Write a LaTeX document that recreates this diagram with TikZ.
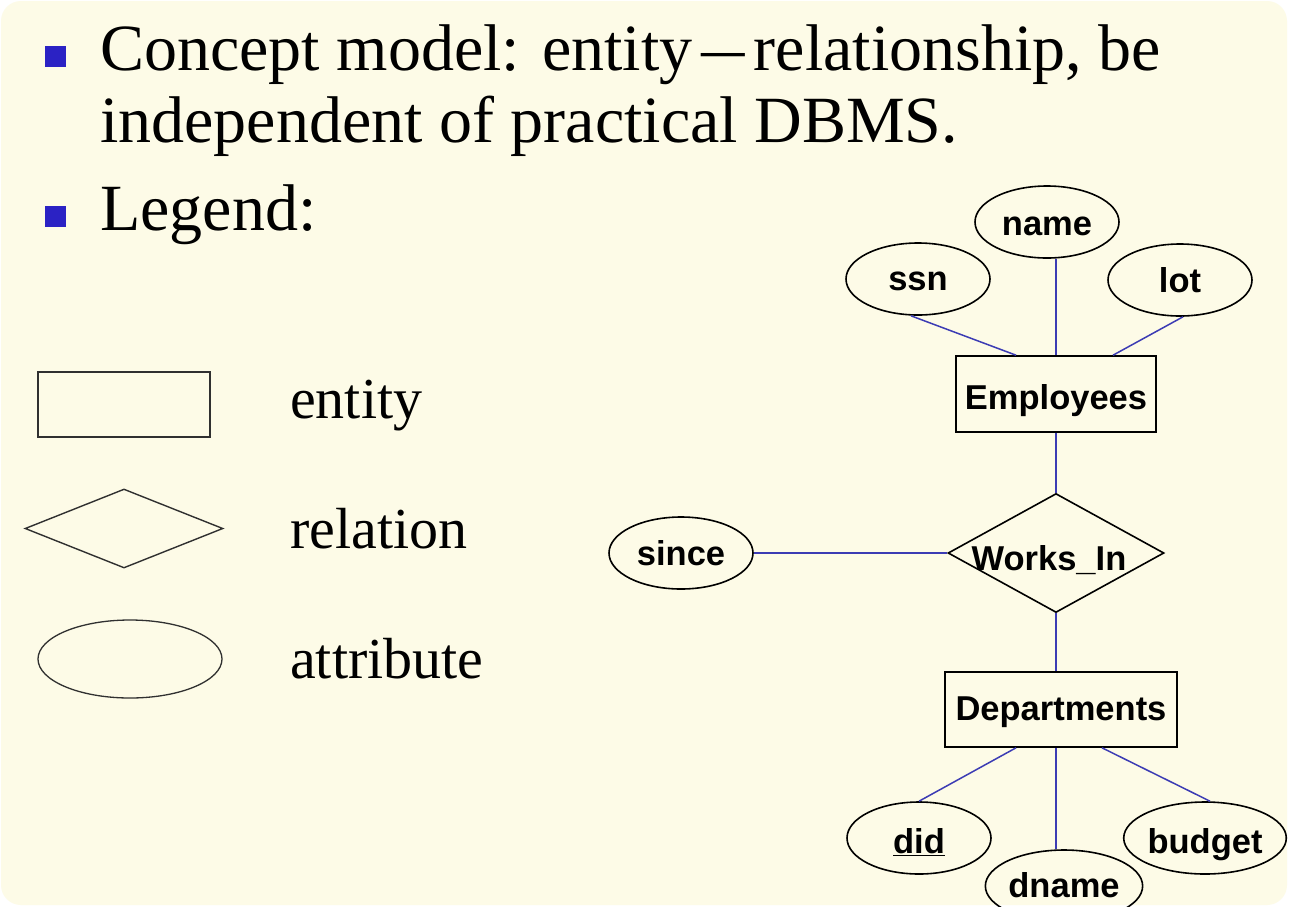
\documentclass[tikz,border=0pt]{standalone}
\usepackage{fontspec}
\setmainfont{Liberation Serif}
\newfontfamily\erfont{Liberation Sans}
\usetikzlibrary{shapes.geometric}
\definecolor{slidebg}{HTML}{FDFBE7}
\definecolor{linkblue}{HTML}{3C3CB4}
\definecolor{bulletblue}{HTML}{2B22C4}
\definecolor{legendgray}{HTML}{303030}
\newcommand{\shortdash}{\hspace{9pt}\scalebox{0.66}[1]{—}\hspace{9pt}}
\tikzset{
  erlabel/.style={font=\erfont\bfseries\fontsize{34.5}{34.5}\selectfont, text height=25pt, text depth=0pt},
  attr/.style={ellipse, draw=black, line width=1.6pt, minimum width=144, minimum height=72, inner sep=0pt, erlabel},
  entitybox/.style={rectangle, draw=black, line width=1.6pt, inner sep=0pt, erlabel},
  relbox/.style={diamond, draw=black, line width=1.6pt, inner sep=0pt, aspect=1.82, minimum width=216, minimum height=119},
  link/.style={draw=linkblue, line width=1.5pt},
  bullet/.style={fill=bulletblue, draw=none, minimum width=21, minimum height=21, inner sep=0pt},
  headtext/.style={anchor=base west, inner sep=0pt, font=\fontsize{66}{78}\selectfont},
  legtext/.style={anchor=base west, inner sep=0pt, font=\fontsize{58}{68}\selectfont},
  legshape/.style={draw=legendgray, inner sep=0pt}
}
\begin{document}
\begin{tikzpicture}[x=1pt,y=-1pt]
\useasboundingbox (0,0) rectangle (1290,906);
\fill[white] (0,0) rectangle (1290,906);
\fill[slidebg, rounded corners=20pt] (1,1) rectangle (1287,905);

% heading bullets and text
\node[bullet] (b1) at (55.5,56) {};
\node[headtext] (t1) at (100,70) {Concept model: entity\shortdash relationship, be};
\node[headtext] (t2) at (100,142) {independent of practical DBMS.};
\node[bullet] (b2) at (55.5,216) {};
\node[headtext] (t3) at (100,230) {Legend:};

% legend
\node[legshape, rectangle, line width=1.8pt, minimum width=172, minimum height=65] (legent) at (124,404.5) {};
\node[legtext] (legentt) at (290,418) {entity};
\node[legshape, diamond, line width=1.4pt, aspect=2.5, minimum width=198, minimum height=79] (legrel) at (124,528.5) {};
\node[legtext] (legrelt) at (290,548) {relation};
\node[legshape, ellipse, line width=1.3pt, minimum width=184, minimum height=78] (legatt) at (130,659) {};
\node[legtext] (legattt) at (290,678) {attribute};

% ER diagram
\node[attr, text height=26pt] (name) at (1047,222) {name};
\node[attr, text height=22pt] (ssn) at (918,279) {ssn};
\node[attr, text height=24pt] (lot) at (1180,280) {lot};
\node[entitybox, minimum width=200, minimum height=76, text height=31pt] (emp) at (1056,394) {Employees};
\node[relbox] (rel) at (1056,553) {};
\node[erlabel, inner sep=0pt] (reltext) at (1049,557.5) {Works\_In};
\node[attr, text height=24pt] (since) at (681,553) {since};
\node[entitybox, minimum width=232, minimum height=75, text height=21pt] (dept) at (1061,709.5) {Departments};
\node[attr, text height=30pt] (did) at (919,838) {\underline{did}};
\node[attr, text height=22pt] (dname) at (1064,886) {dname};
\node[attr, text height=30pt] (budget) at (1205,838) {budget};

\draw[link] ([xshift=-7]ssn.south) -- ([xshift=-40]emp.north);
\draw[link] ([xshift=9]name.south) -- (emp.north);
\draw[link] ([xshift=3]lot.south) -- ([xshift=57]emp.north);
\draw[link] (emp.south) -- (rel.north);
\draw[link] (since.east) -- (rel.west);
\draw[link] (rel.south) -- (rel.south |- dept.north);
\draw[link] ([xshift=-45]dept.south) -- (did.north);
\draw[link] ([xshift=-5]dept.south) -- ([xshift=-8]dname.north);
\draw[link] ([xshift=41]dept.south) -- ([xshift=5]budget.north);
\end{tikzpicture}
\end{document}
